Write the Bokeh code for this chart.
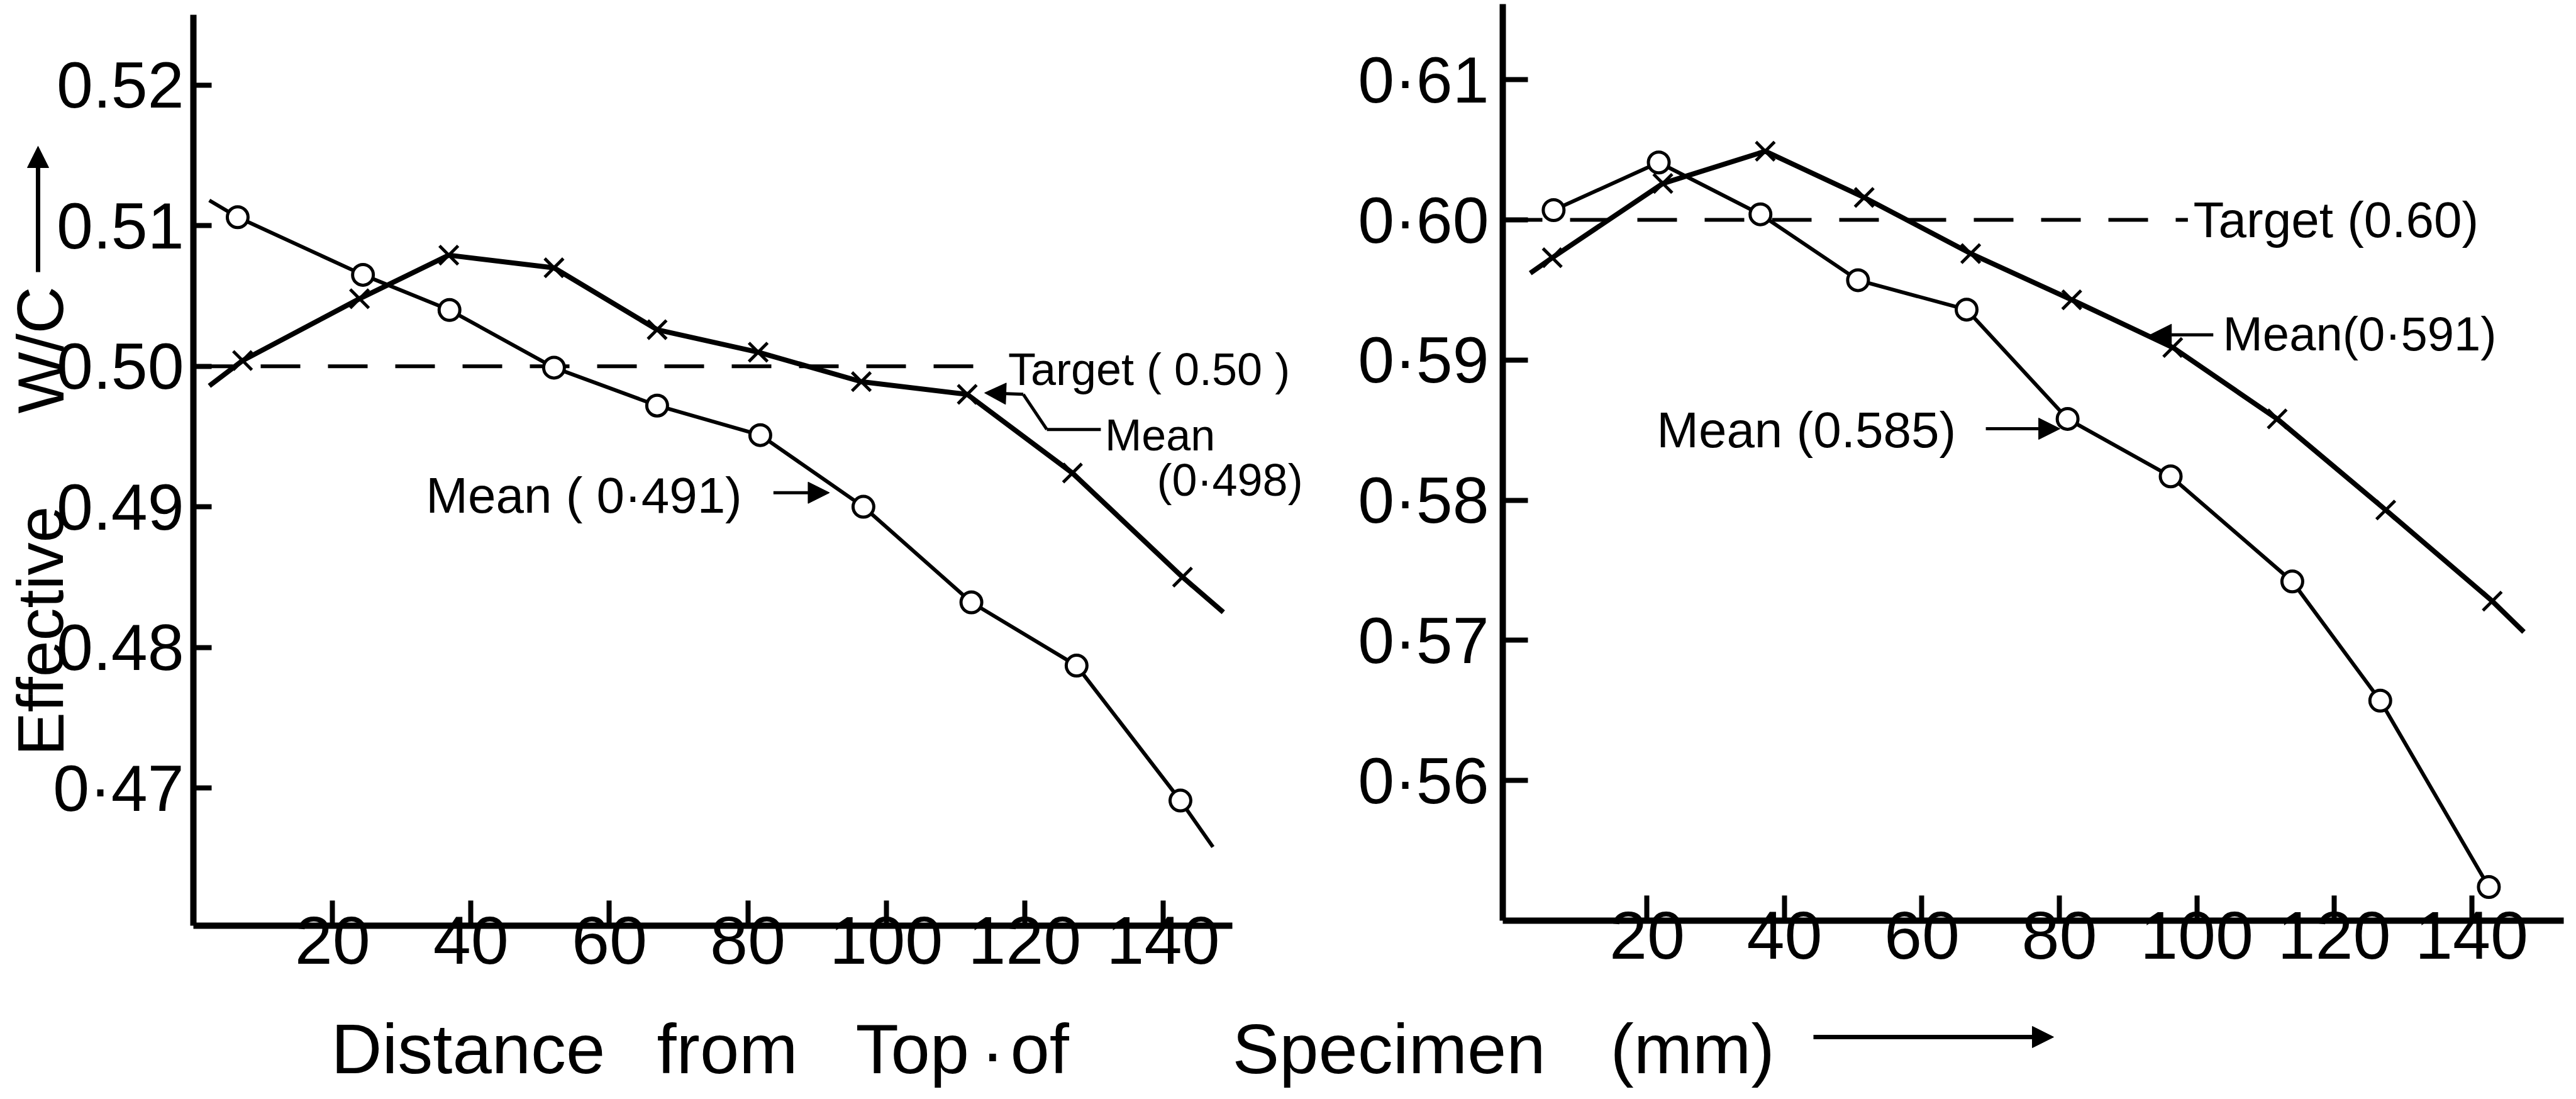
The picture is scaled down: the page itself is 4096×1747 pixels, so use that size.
from bokeh.plotting import figure
from bokeh.models import Range1d, FixedTicker, Label, Arrow, NormalHead, LinearAxis, Grid
from bokeh.embed import file_html
from bokeh.resources import INLINE

# ---------------- data ----------------
# Left panel: mix with target w/c 0.50
left_o_mm = [6.3, 24.4, 36.9, 52.0, 66.9, 81.8, 96.7, 112.3, 127.5, 142.5]
left_o_wc = [0.5106, 0.5065, 0.5040, 0.4999, 0.4972, 0.4951, 0.4900, 0.4832, 0.4787, 0.4691]
left_o_ends_mm = [2.2, 147.2]
left_o_ends_wc = [0.5118, 0.4658]

left_x_mm = [7.0, 23.9, 36.8, 52.0, 66.9, 81.5, 96.4, 111.7, 126.9, 142.8]
left_x_wc = [0.5004, 0.5048, 0.5079, 0.5070, 0.5026, 0.5010, 0.4989, 0.4980, 0.4924, 0.4850]
left_x_ends_mm = [2.2, 148.7]
left_x_ends_wc = [0.4986, 0.4825]

left_target = 0.50
left_yticks = [0.47, 0.48, 0.49, 0.50, 0.51, 0.52]
left_ylabels = ["0·47", "0.48", "0.49", "0.50", "0.51", "0.52"]

# Right panel: mix with target w/c 0.60
right_o_mm = [6.4, 21.7, 36.5, 50.7, 66.5, 81.2, 96.2, 113.9, 126.7, 142.5]
right_o_wc = [0.6007, 0.6041, 0.6004, 0.5957, 0.5936, 0.5858, 0.5817, 0.5742, 0.5657, 0.5524]

right_x_mm = [6.2, 22.3, 37.2, 51.6, 67.1, 81.8, 96.5, 111.7, 127.5, 143.0]
right_x_wc = [0.5973, 0.6026, 0.6049, 0.6016, 0.5976, 0.5943, 0.5909, 0.5858, 0.5793, 0.5728]
right_x_ends_mm = [3.0, 147.6]
right_x_ends_wc = [0.5962, 0.5706]

right_target = 0.60
right_yticks = [0.56, 0.57, 0.58, 0.59, 0.60, 0.61]
right_ylabels = ["0·56", "0·57", "0·58", "0·59", "0·60", "0·61"]

xticks = [20, 40, 60, 80, 100, 120, 140]

# ---------------- geometry (canvas pixels) ----------------
W, H = 4096, 1747
FONT = "Liberation Sans"
INK = "black"

# each panel: axis extents in data units and where they sit on the canvas
L_X = (-0.1, 150.0)
L_Y = (0.4602, 0.525)
L_PX = (307, 1959)     # left/right pixel of the x extent
L_PY = (1471, 23)      # bottom/top pixel of the y extent

R_X = (-1.0, 153.4)
R_Y = (0.5500, 0.6154)
R_PX = (2389, 4076)
R_PY = (1463, 6)


def full_range(lo, hi, p_lo, p_hi, p_min, p_max):
    """Range covering the whole canvas so that lo->p_lo and hi->p_hi."""
    k = (hi - lo) / (p_hi - p_lo)
    return Range1d(lo + (p_min - p_lo) * k, lo + (p_max - p_lo) * k)


p = figure(width=W, height=H,
           x_range=full_range(*L_X, *L_PX, 0, W),
           y_range=full_range(*L_Y, *L_PY, H, 0),
           x_axis_location=None, y_axis_location=None,
           min_border=0, output_backend="svg", toolbar_location=None)
p.extra_x_ranges = {"rx": full_range(*R_X, *R_PX, 0, W), "px": Range1d(0, W)}
p.extra_y_ranges = {"ry": full_range(*R_Y, *R_PY, H, 0), "px": Range1d(H, 0)}
p.background_fill_color = "white"
p.border_fill_color = "white"
p.outline_line_color = None
for g in p.select(type=Grid):
    g.visible = False
p.xgrid.visible = False
p.ygrid.visible = False


def add_axes(xr, yr, xb, yb, yticks, ylabels, ytick_len, ystandoff):
    common = dict(x_range_name=xr, y_range_name=yr, axis_line_width=10,
                  axis_line_color=INK, major_tick_line_width=8,
                  major_tick_line_color=INK, major_tick_out=0,
                  minor_tick_line_color=None, major_label_text_font=FONT,
                  major_label_text_color=INK)
    xa = LinearAxis(fixed_location=yb[0], bounds=xb, ticker=FixedTicker(ticks=xticks),
                    major_tick_in=40, major_label_standoff=-14,
                    major_label_text_font_size="108px", **common)
    p.add_layout(xa, "below")
    ya = LinearAxis(fixed_location=xb[0], bounds=yb, ticker=FixedTicker(ticks=yticks),
                    major_label_overrides={t: s for t, s in zip(yticks, ylabels)},
                    major_tick_in=ytick_len, major_label_standoff=ystandoff,
                    major_label_text_font_size="104px", **common)
    p.add_layout(ya, "left")


def series(xr, yr, o_x, o_y, x_x, x_y, o_ends=None, x_ends=None):
    rn = dict(x_range_name=xr, y_range_name=yr)
    ox, oy = list(o_x), list(o_y)
    if o_ends:
        ox = [o_ends[0][0]] + ox + [o_ends[0][1]]
        oy = [o_ends[1][0]] + oy + [o_ends[1][1]]
    p.line(ox, oy, line_width=6, line_color=INK, **rn)
    xx, xy = list(x_x), list(x_y)
    if x_ends:
        xx = [x_ends[0][0]] + xx + [x_ends[0][1]]
        xy = [x_ends[1][0]] + xy + [x_ends[1][1]]
    p.line(xx, xy, line_width=8, line_color=INK, **rn)
    p.scatter(o_x, o_y, marker="circle", size=33, fill_color="white",
              line_color=INK, line_width=5, **rn)
    p.scatter(x_x, x_y, marker="x", size=42, line_color=INK, line_width=5, **rn)


def note(x, y, text, size, xr="default", yr="default", align="left", angle=0.0):
    p.add_layout(Label(x=x, y=y, text=text, text_font=FONT, x_range_name=xr, y_range_name=yr,
                       text_font_size=f"{size}px", text_color=INK,
                       text_align=align, text_baseline="middle", angle=angle))


def pointer(x0, y0, x1, y1, xr="default", yr="default", head=True, width=5):
    p.add_layout(Arrow(x_start=x0, y_start=y0, x_end=x1, y_end=y1,
                       x_range_name=xr, y_range_name=yr,
                       line_width=width, line_color=INK,
                       end=NormalHead(size=34, fill_color=INK, line_color=INK) if head else None))


# ---------------- left panel ----------------
add_axes("default", "default", L_X, L_Y, left_yticks, left_ylabels, 29, 15)
p.line([L_X[0], 115.3], [left_target, left_target], line_width=6,
       line_color=INK, line_dash="63 44")
series("default", "default", left_o_mm, left_o_wc, left_x_mm, left_x_wc,
       (left_o_ends_mm, left_o_ends_wc), (left_x_ends_mm, left_x_ends_wc))

note(117.6, 0.4998, "Target ( 0.50 )", 72)
note(131.6, 0.4951, "Mean", 70)
note(139.1, 0.4919, "(0·498)", 72)
note(33.5, 0.4908, "Mean ( 0·491)", 80)
pointer(83.7, 0.4910, 91.8, 0.4910)
# leader from the "Mean (0.498)" note to its curve
pointer(131.0, 0.4955, 123.2, 0.4955, head=False)
pointer(123.2, 0.4955, 119.8, 0.4980, head=False)
pointer(119.8, 0.4980, 114.2, 0.4981)

# ---------------- right panel ----------------
add_axes("rx", "ry", R_X, R_Y, right_yticks, right_ylabels, 40, 22)
p.line([R_X[0], 98.7], [right_target, right_target], line_width=6,
       line_color=INK, line_dash="63 44", x_range_name="rx", y_range_name="ry")
series("rx", "ry", right_o_mm, right_o_wc, right_x_mm, right_x_wc,
       None, (right_x_ends_mm, right_x_ends_wc))

note(99.5, 0.6000, "Target (0.60)", 80, "rx", "ry")
note(103.8, 0.5919, "Mean(0·591)", 76, "rx", "ry")
pointer(102.4, 0.5918, 93.2, 0.5918, "rx", "ry")
note(21.4, 0.5850, "Mean (0.585)", 80, "rx", "ry")
pointer(69.3, 0.5851, 80.1, 0.5851, "rx", "ry")

# ---------------- axis titles (canvas pixel positions) ----------------
note(64, 1201, "Effective", 104, "px", "px", angle=1.5708)
note(64, 657, "W/C", 104, "px", "px", angle=1.5708)
pointer(60, 432, 60, 232, "px", "px", width=7)

for word, xpos in [("Distance", 526), ("from", 1044), ("Top", 1360), ("of", 1606),
                   ("Specimen", 1959), ("(mm)", 2560)]:
    note(xpos, 1667, word, 112, "px", "px")
note(1578, 1672, "·", 112, "px", "px", align="center")
pointer(2883, 1648, 3265, 1648, "px", "px", width=7)

open("out.html", "w").write(file_html(p, INLINE))
